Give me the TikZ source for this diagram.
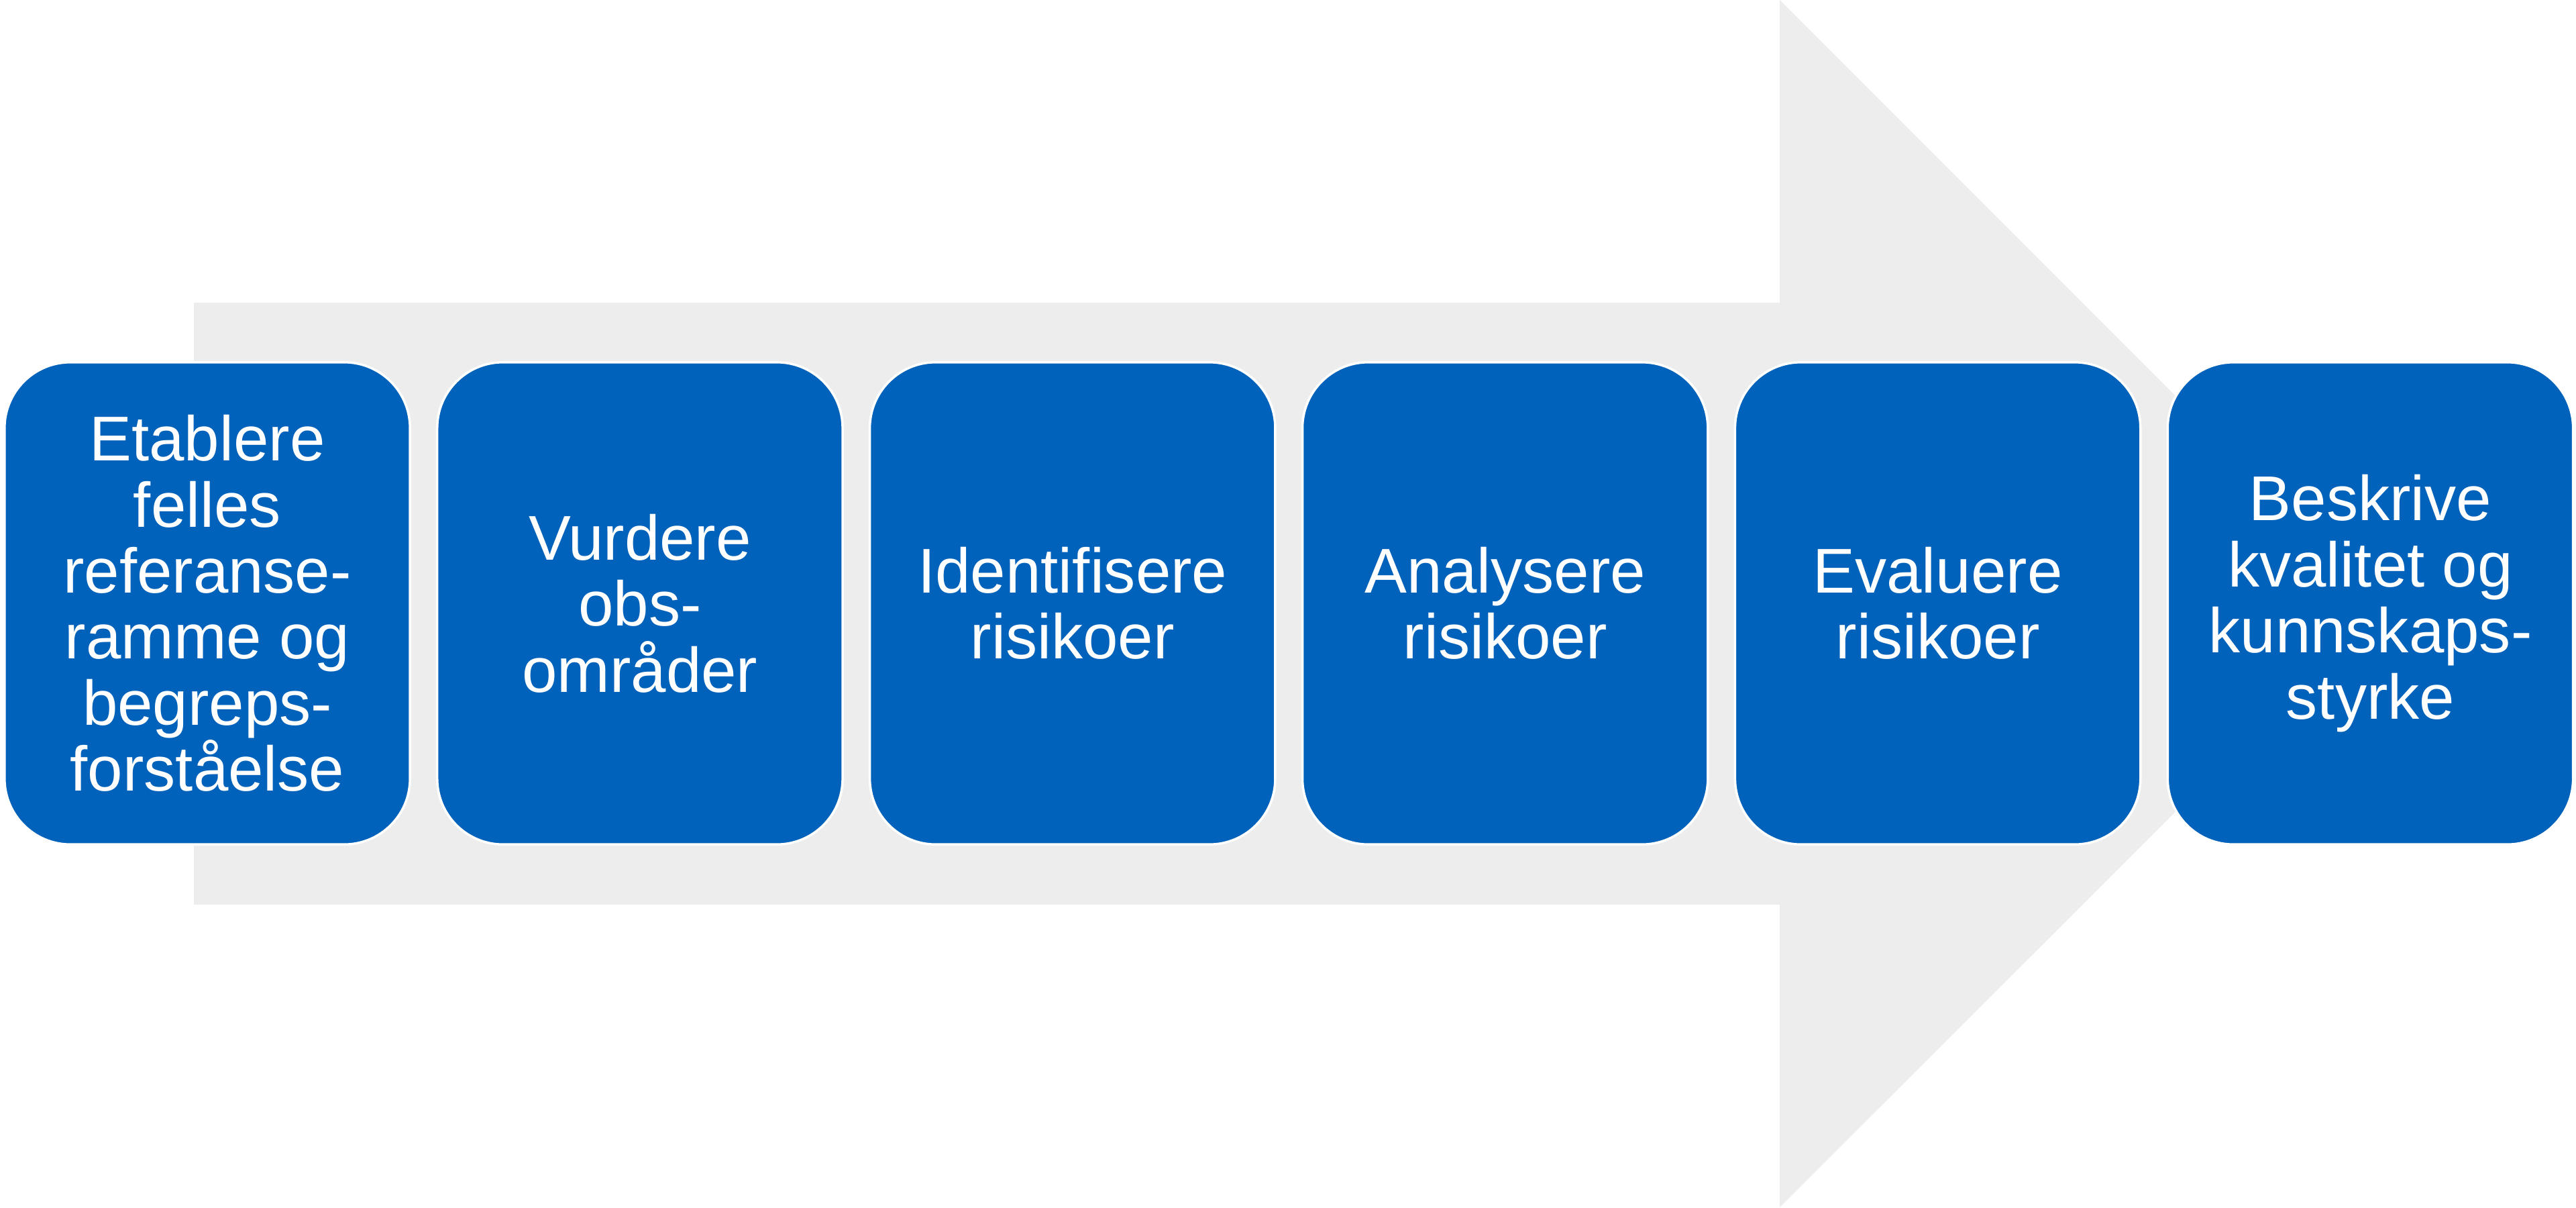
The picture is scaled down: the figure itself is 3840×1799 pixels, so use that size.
\documentclass[tikz,border=0pt]{standalone}
\usepackage{fontspec}
\setmainfont{Liberation Sans}
\usepackage{xcolor}
\usetikzlibrary{positioning}
\definecolor{faseblue}{RGB}{0,98,186}
\definecolor{pilgray}{RGB}{237,237,237}

\begin{document}
\begin{tikzpicture}
  [x=0.01cm,y=-0.01cm,
    node distance=0.37cm,
    fase/.style={rectangle,rounded corners=0.98cm,fill=faseblue,draw=white,line width=1pt,
      minimum width=6.04cm,minimum height=7.18cm,align=center,text=white,
      font=\fontsize{26.8pt}{28pt}\selectfont}]
  \useasboundingbox (0,0) rectangle (3840,1799);
  % big arrow in the background
  \fill[pilgray] (289,451) -- (2653,451) -- (2653,0) -- (3553,900) -- (2653,1799)
    -- (2653,1348) -- (289,1348) -- cycle;
  % the six steps
  \node[fase] (etablere) at (309,899) {Etablere\\felles\\referanse-\\ramme og\\begreps-\\forståelse};
  \node[fase,right=of etablere] (vurdere) {Vurdere\\obs-\\områder};
  \node[fase,right=of vurdere] (identifisere) {Identifisere\\risikoer};
  \node[fase,right=of identifisere] (analysere) {Analysere\\risikoer};
  \node[fase,right=of analysere] (evaluere) {Evaluere\\risikoer};
  \node[fase,right=of evaluere] (beskrive) {Beskrive\\kvalitet og\\kunnskaps-\\styrke};
\end{tikzpicture}
\end{document}
